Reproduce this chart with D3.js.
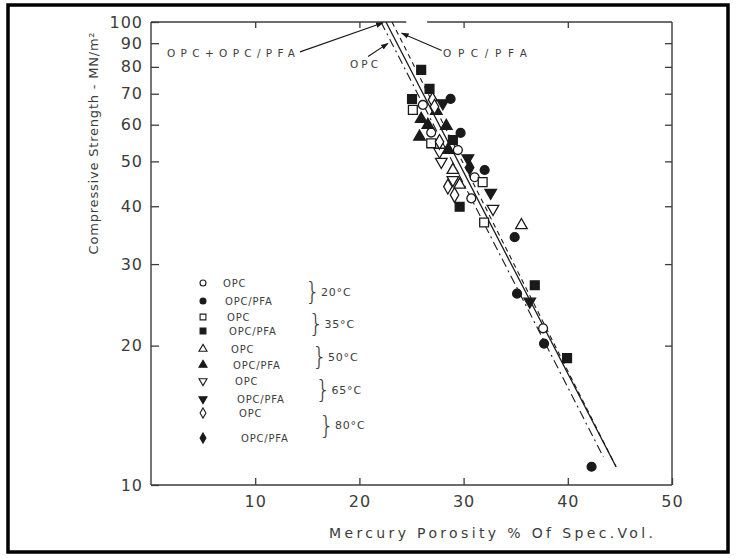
<!DOCTYPE html>
<html><head><meta charset="utf-8">
<script src="https://cdn.jsdelivr.net/npm/d3@7"></script>
<style>
html,body{margin:0;padding:0;background:#fff;}
text{font-family:"DejaVu Sans",sans-serif;}
</style></head>
<body><svg id="c" width="736" height="559"></svg>
<script>
// ---- data ----
const xTicks = [10, 20, 30, 40, 50];
const yTicks = [10, 20, 30, 40, 50, 60, 70, 80, 90, 100];
const yInnerTicks = [20, 30, 40, 50, 60, 70, 80, 90];
const xTopTicks = [10, 20, 30, 40];

const opc20 = [[26.09,66.2],[26.89,57.7],[29.45,52.9],[31.06,46.2],[30.74,41.6],[37.63,21.8]];
const pfa20 = [[28.75,68.2],[29.71,57.6],[32.02,47.9],[34.9,34.3],[35.13,25.9],[37.72,20.2],[42.28,10.95]];
const opc35 = [[25.13,64.6],[26.89,54.7],[31.83,45.1],[31.97,36.9]];
const pfa35 = [[25.93,78.8],[26.73,71.7],[25.05,68.2],[28.97,55.6],[29.62,39.9],[36.83,27.0],[39.93,18.8]];
const opc50 = [[28.97,47.9],[29.62,44.5],[35.55,36.4]];
const pfa50 = [[27.38,64.2],[25.93,61.7],[26.57,59.9],[28.34,59.6],[25.77,56.5],[28.49,52.9]];
const opc65 = [[27.69,52.5],[27.86,49.9],[28.97,45.6],[32.82,39.5]];
const pfa65 = [[28.01,66.8],[30.41,50.8],[32.6,42.8],[36.35,24.9]];
const opc80 = [[27.02,67.9],[27.21,65.6],[27.69,55.1],[28.49,44.1],[29.13,42.3]];
const pfa80 = [[30.58,48.5]];

const lineCombined = [[22.55,100],[44.63,10.95]];
const lineOPC = [[22.07,100],[43.41,11.5]];
const linePFA = [[23.13,100],[44.63,10.95]];

const legendCement = ["OPC","OPC/PFA","OPC","OPC/PFA","OPC","OPC/PFA","OPC","OPC/PFA","OPC","OPC/PFA"];
const legendTemps = ["20°C","35°C","50°C","65°C","80°C"];
const xTitle = "Mercury Porosity % Of Spec.Vol.";
const yTitle = "Compressive Strength - MN/m²";

// ---- drawing ----
const svg = d3.select("#c");
const ink = "#1a1a1a", grey = "#3c3c3c";
const x = d3.scaleLinear().domain([0, 50]).range([151, 672]);
const y = d3.scaleLog().domain([10, 100]).range([485, 22]);

// outer frame
svg.append("rect").attr("x", 8).attr("y", 5).attr("width", 720).attr("height", 547)
  .attr("fill", "none").attr("stroke", "#000").attr("stroke-width", 3.5);

// plot frame (top line has a small break as in the original)
const fr = svg.append("g").attr("stroke", grey).attr("stroke-width", 1.4).attr("fill", "none");
fr.append("line").attr("x1", x(0)).attr("x2", x(0)).attr("y1", y(100)).attr("y2", y(10));
fr.append("line").attr("x1", x(0)).attr("x2", x(50)).attr("y1", y(10)).attr("y2", y(10));
fr.append("line").attr("x1", x(50)).attr("x2", x(50)).attr("y1", y(100)).attr("y2", y(10));
fr.append("line").attr("x1", x(0)).attr("x2", x(24.5)).attr("y1", y(100)).attr("y2", y(100));
fr.append("line").attr("x1", x(26.5)).attr("x2", x(50)).attr("y1", y(100)).attr("y2", y(100));

function styleAxis(g){
  g.select(".domain").remove();
  g.selectAll(".tick line").attr("stroke", grey).attr("stroke-width", 1.3);
  g.selectAll(".tick text").attr("fill", grey).attr("font-size", 16)
   .attr("letter-spacing", 1).attr("font-family", "DejaVu Sans");
}
svg.append("g").attr("transform", `translate(0,${y(10)})`)
  .call(d3.axisBottom(x).tickValues(xTicks).tickSize(-7).tickPadding(11).tickFormat(d3.format("d")))
  .call(styleAxis);
svg.append("g").attr("transform", `translate(0,${y(100)})`)
  .call(d3.axisTop(x).tickValues(xTopTicks).tickSize(-6).tickFormat(""))
  .call(styleAxis);
svg.append("g").attr("transform", `translate(${x(0)},0)`)
  .call(d3.axisLeft(y).tickValues(yTicks).tickSize(-8).tickPadding(8).tickFormat(d3.format("d")))
  .call(styleAxis);
svg.append("g").attr("transform", `translate(${x(50)},0)`)
  .call(d3.axisRight(y).tickValues(yInnerTicks).tickSize(-7).tickFormat(""))
  .call(styleAxis);

// regression lines
const line = d3.line().x(d => x(d[0])).y(d => y(d[1]));
svg.append("path").datum(lineCombined).attr("d", line).attr("fill", "none")
  .attr("stroke", ink).attr("stroke-width", 1.3);
svg.append("path").datum(lineOPC).attr("d", line).attr("fill", "none")
  .attr("stroke", ink).attr("stroke-width", 1.1).attr("stroke-dasharray", "9,4,2,4");
svg.append("path").datum(linePFA).attr("d", line).attr("fill", "none")
  .attr("stroke", ink).attr("stroke-width", 1.1).attr("stroke-dasharray", "5,4");

// symbols
const sym = {
  circle: d3.symbol().type(d3.symbolCircle).size(62),
  square: d3.symbol().type(d3.symbolSquare).size(78),
  triUp: d3.symbol().type(d3.symbolTriangle).size(58),
  diamond: d3.symbol().type(d3.symbolDiamond).size(62)
};
const seriesDefs = [
  {data: opc20, shape: "circle", filled: false, rot: 0},
  {data: pfa20, shape: "circle", filled: true, rot: 0},
  {data: opc35, shape: "square", filled: false, rot: 0},
  {data: pfa35, shape: "square", filled: true, rot: 0},
  {data: opc50, shape: "triUp", filled: false, rot: 0},
  {data: pfa50, shape: "triUp", filled: true, rot: 0},
  {data: opc65, shape: "triUp", filled: false, rot: 180},
  {data: pfa65, shape: "triUp", filled: true, rot: 180},
  {data: opc80, shape: "diamond", filled: false, rot: 0},
  {data: pfa80, shape: "diamond", filled: true, rot: 0}
];
seriesDefs.forEach(s => {
  svg.append("g").selectAll("path").data(s.data).join("path")
    .attr("d", sym[s.shape]())
    .attr("transform", d => `translate(${x(d[0])},${y(d[1])}) rotate(${s.rot})`)
    .attr("fill", s.filled ? ink : "#fff")
    .attr("stroke", ink).attr("stroke-width", 1.3);
});

// legend
const lg = svg.append("g");
const legSym = {
  circle: d3.symbol().type(d3.symbolCircle).size(28),
  square: d3.symbol().type(d3.symbolSquare).size(34),
  triUp: d3.symbol().type(d3.symbolTriangle).size(28),
  diamond: d3.symbol().type(d3.symbolDiamond).size(30)
};
const legRowY = [283, 301, 317, 331, 349, 365, 381, 399, 413, 438];
seriesDefs.forEach((s, i) => {
  const yy = legRowY[i];
  lg.append("path").attr("d", legSym[s.shape]())
    .attr("transform", `translate(203,${yy}) rotate(${s.rot})`)
    .attr("fill", s.filled ? ink : "#fff").attr("stroke", ink).attr("stroke-width", 1.1);
  lg.append("text").attr("x", 223 + i * 2).attr("y", yy).attr("dy", "0.35em")
    .attr("font-size", 10).attr("letter-spacing", 0.8).attr("fill", grey).text(legendCement[i]);
});
legendTemps.forEach((t, k) => {
  const yc = (legRowY[2 * k] + legRowY[2 * k + 1]) / 2;
  const bx = 305 + k * 3.5;
  lg.append("text").attr("x", bx).attr("y", yc).attr("dy", "0.35em")
    .attr("font-size", 24).attr("font-weight", 300).attr("fill", grey).text("}");
  lg.append("text").attr("x", bx + 16).attr("y", yc).attr("dy", "0.35em")
    .attr("font-size", 11).attr("letter-spacing", 0.8).attr("fill", grey).text(t);
});

// annotations with arrows
svg.append("defs").append("marker").attr("id", "ah").attr("viewBox", "0 0 10 10")
  .attr("refX", 9).attr("refY", 5).attr("markerWidth", 7).attr("markerHeight", 7)
  .attr("orient", "auto").append("path").attr("d", "M0,1.5L10,5L0,8.5Z").attr("fill", ink);
const ann = [
  {text: "OPC+OPC/PFA", tx: 1.54, ty: 85.6, len: 128, from: [14.3, 86.2], to: [22.27, 99.6]},
  {text: "OPC", tx: 19.1, ty: 81.2, len: 28, from: [20.83, 84.2], to: [22.74, 89.9]},
  {text: "OPC/PFA", tx: 28.02, ty: 85.7, len: 84, from: [27.9, 86.8], to: [24.06, 94.6]}
];
ann.forEach(a => {
  svg.append("text").attr("x", x(a.tx)).attr("y", y(a.ty)).attr("dy", "0.35em")
    .attr("font-size", 10.5).attr("textLength", a.len).attr("lengthAdjust", "spacing")
    .attr("fill", grey).text(a.text);
  svg.append("line").attr("x1", x(a.from[0])).attr("y1", y(a.from[1]))
    .attr("x2", x(a.to[0])).attr("y2", y(a.to[1]))
    .attr("stroke", ink).attr("stroke-width", 1.1).attr("marker-end", "url(#ah)");
});

// axis titles
svg.append("text").attr("x", 329).attr("y", 533).attr("dy", "0.35em")
  .attr("font-size", 14).attr("textLength", 324).attr("lengthAdjust", "spacing")
  .attr("fill", grey).text(xTitle);
svg.append("text").attr("transform", "translate(93,143) rotate(-90)")
  .attr("text-anchor", "middle").attr("dy", "0.35em")
  .attr("font-size", 13).attr("letter-spacing", 0.8).attr("fill", grey).text(yTitle);
</script></body></html>
